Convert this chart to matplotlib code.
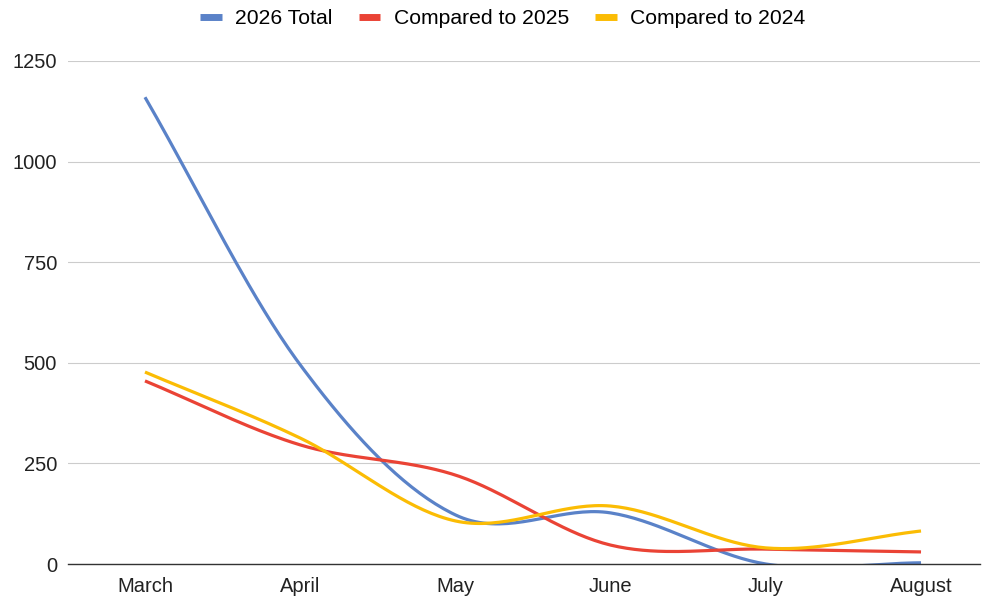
import numpy as np
import matplotlib
matplotlib.use("Agg")
from matplotlib import pyplot as plt
from matplotlib.lines import Line2D

months = ["March", "April", "May", "June", "July", "August"]
total_2026 = [1160, 495, 122, 127, 0, 3]
vs_2025 = [455, 296, 221, 47, 37, 30]
vs_2024 = [477, 313, 107, 144, 40, 82]

series = [
    ("2026 Total", total_2026, "#5A82C8"),
    ("Compared to 2025", vs_2025, "#EA4335"),
    ("Compared to 2024", vs_2024, "#FBBC04"),
]


def smooth(xs, ys, steps=40):
    # catmull-rom style curve through the points, like the "function" curve type
    xs = np.asarray(xs, dtype=float)
    ys = np.asarray(ys, dtype=float)
    px = np.concatenate([[2 * xs[0] - xs[1]], xs, [2 * xs[-1] - xs[-2]]])
    py = np.concatenate([[2 * ys[0] - ys[1]], ys, [2 * ys[-1] - ys[-2]]])
    out_x, out_y = [], []
    for i in range(1, len(px) - 2):
        t = np.linspace(0, 1, steps)
        for arr, out in ((px, out_x), (py, out_y)):
            p0, p1, p2, p3 = arr[i - 1], arr[i], arr[i + 1], arr[i + 2]
            m1 = (p2 - p0) / 2
            m2 = (p3 - p1) / 2
            h00 = 2 * t**3 - 3 * t**2 + 1
            h10 = t**3 - 2 * t**2 + t
            h01 = -2 * t**3 + 3 * t**2
            h11 = t**3 - t**2
            out.extend(h00 * p1 + h10 * m1 + h01 * p2 + h11 * m2)
    return np.array(out_x), np.array(out_y)


plt.rcParams["font.family"] = ["Liberation Sans", "DejaVu Sans"]

fig = plt.figure(figsize=(9.92, 6), dpi=100)
ax = fig.add_axes([68 / 992, 36 / 600, 912 / 992, 503 / 600])

x = np.arange(len(months))
for name, vals, color in series:
    sx, sy = smooth(x, vals)
    ax.plot(sx, sy, color=color, lw=2.3, solid_capstyle="butt", label=name, clip_on=True)

ax.set_xlim(-0.496, 5.38)
ax.set_ylim(0, 1250)
ax.set_yticks([0, 250, 500, 750, 1000, 1250])
ax.set_xticks(x)
ax.set_xticklabels(months)
ax.tick_params(axis="both", length=0, labelsize=14.5, colors="#222222")
ax.tick_params(axis="y", pad=8)
ax.tick_params(axis="x", pad=9)
ax.grid(axis="y", color="#cccccc", lw=0.8)
ax.set_axisbelow(True)
for side in ["top", "right", "left"]:
    ax.spines[side].set_visible(False)
ax.spines["bottom"].set_color("#333333")
ax.spines["bottom"].set_linewidth(1)
ax.spines["bottom"].set_zorder(5)

handles = [Line2D([0], [0], color=c, lw=5, solid_capstyle="butt") for _, _, c in series]
fig.legend(handles, [s[0] for s in series], loc="center", bbox_to_anchor=(503 / 992, 1 - 19 / 600),
           ncol=3, frameon=False, fontsize=15.2, handlelength=1.0, handletextpad=0.65,
           columnspacing=1.25)

plt.savefig("out.png", dpi=100)
